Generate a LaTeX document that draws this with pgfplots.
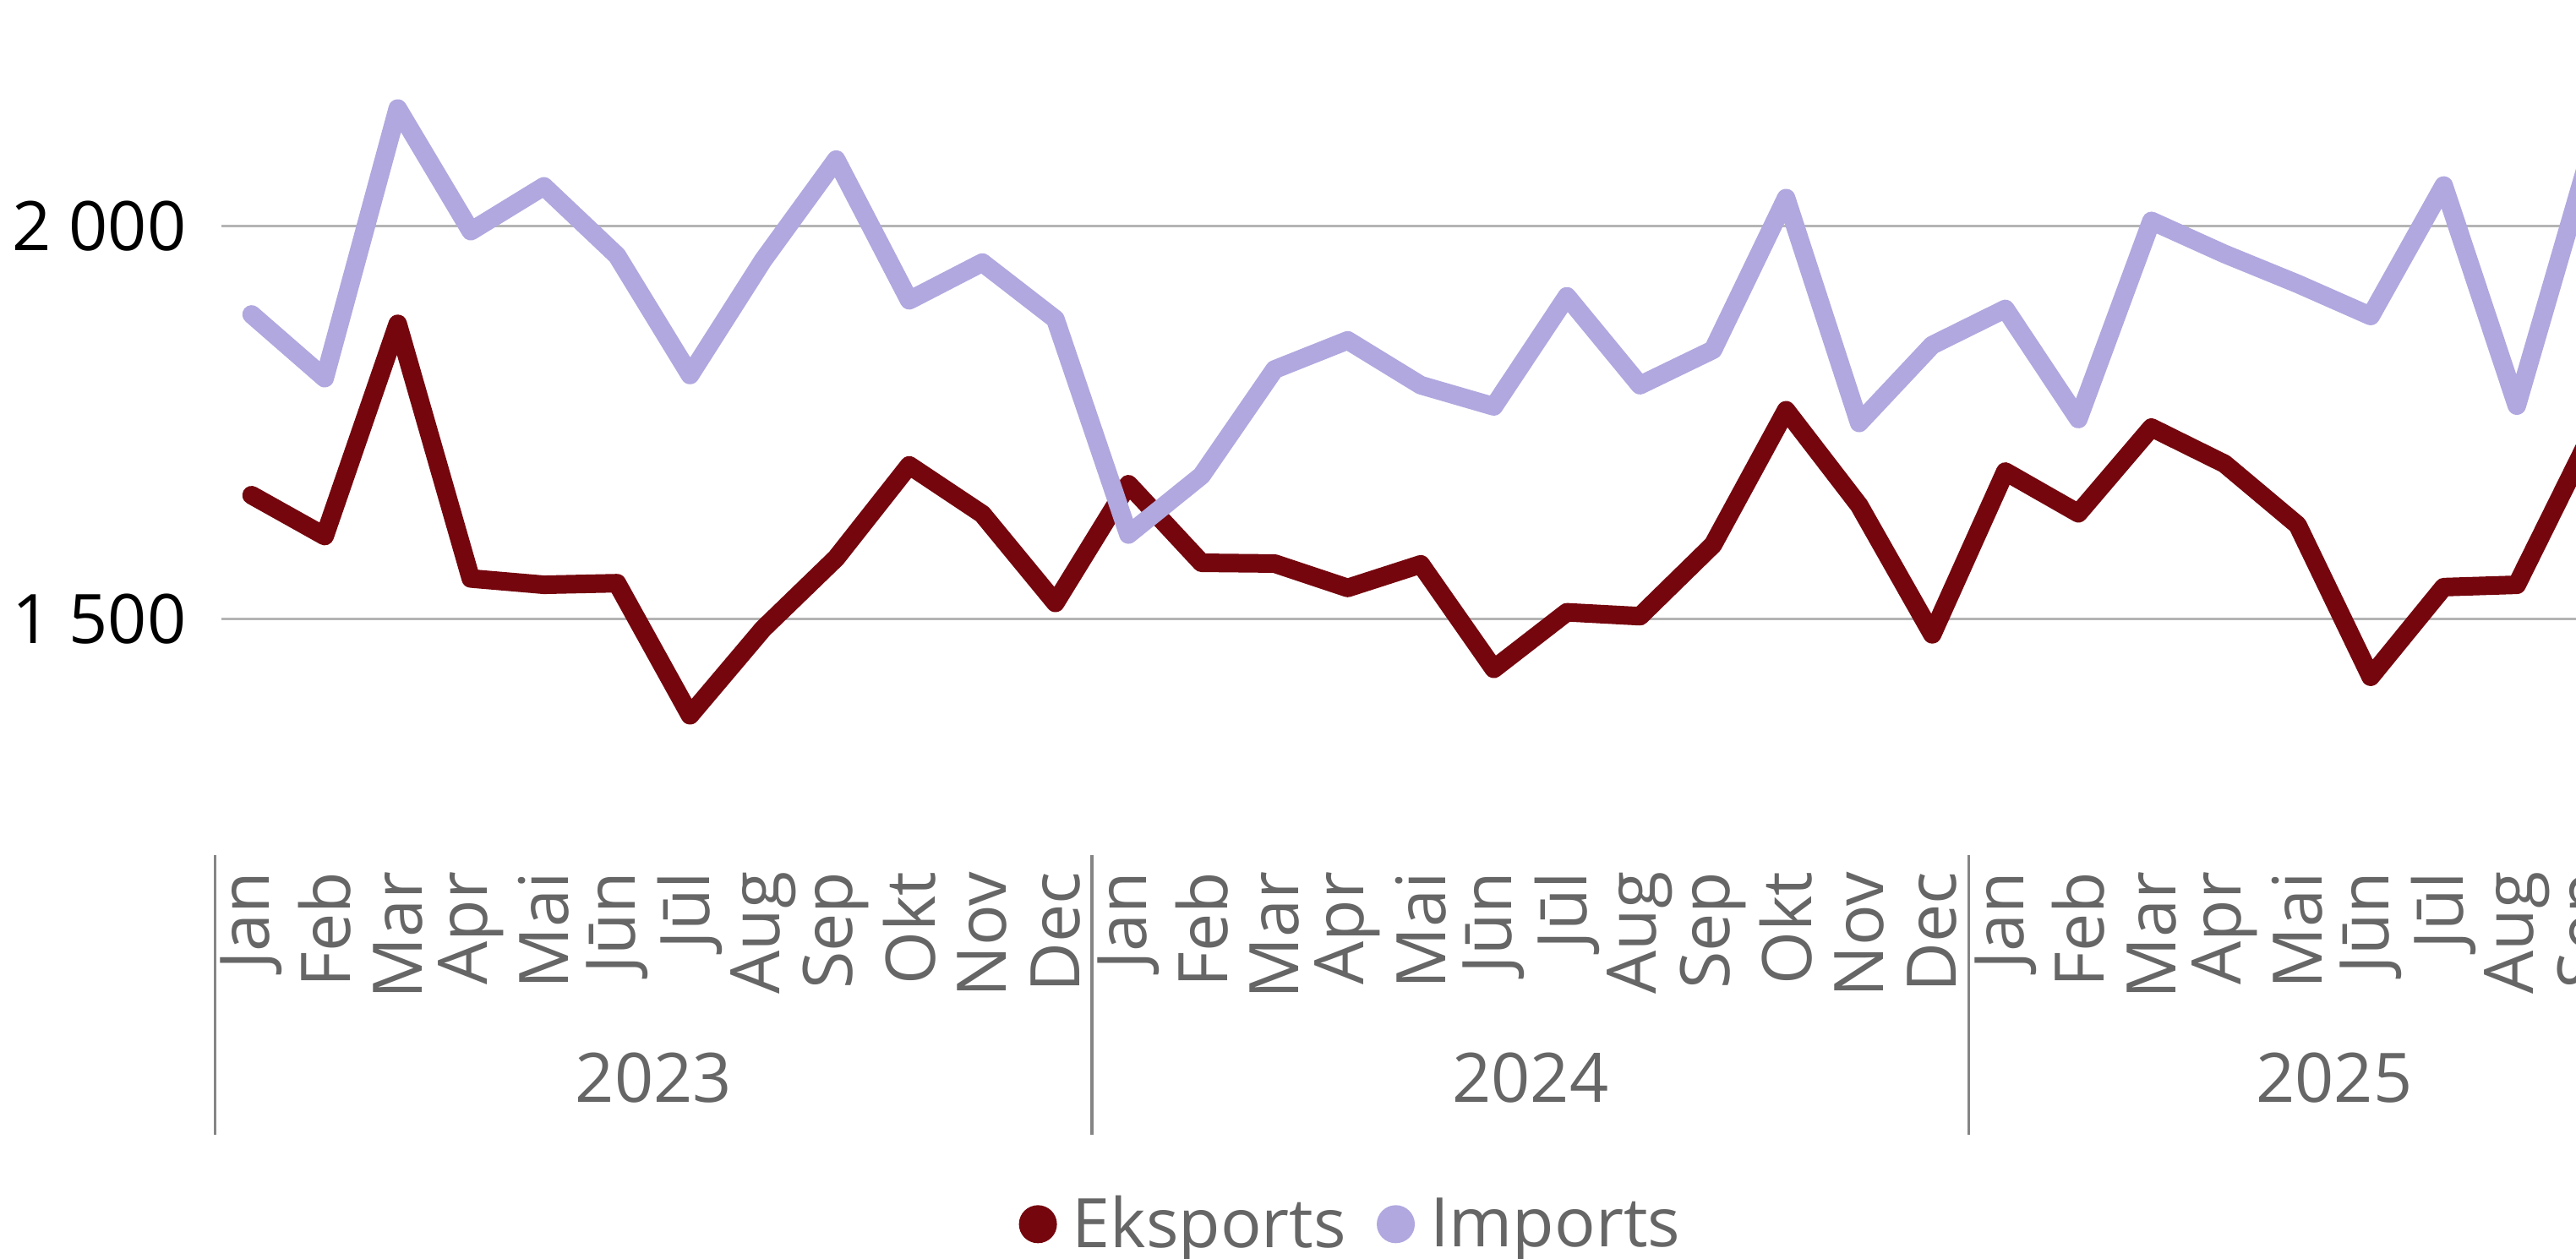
\documentclass[border=0pt]{standalone}
\usepackage{pgfplots}
\pgfplotsset{compat=1.18}
\usepackage{fontspec}
\setmainfont{Open Sans}
\definecolor{expc}{RGB}{117,6,14}
\definecolor{impc}{RGB}{176,168,223}
\definecolor{gridc}{RGB}{180,180,180}
\definecolor{lblc}{RGB}{102,102,102}
\definecolor{sepc}{RGB}{133,133,133}
\newcommand\lblfont{\fontsize{23}{27}\selectfont}
\begin{document}
\begin{tikzpicture}
\path[use as bounding box] (0,0) rectangle (30.48,14.90);
\clip (0,0) rectangle (30.48,14.90);
\begin{axis}[
  at={(2.62cm,4.78cm)}, anchor=south west,
  scale only axis, width=29.321cm, height=10.23cm,
  xmin=-0.413, xmax=33.5, ymin=1200, ymax=2300,
  clip=false,
  axis line style={draw=none},
  major tick length=0pt,
  ytick={1500,2000}, yticklabels={1 500,2 000},
  ymajorgrids, grid style={gridc, line width=0.03cm},
  yticklabel style={font=\lblfont, text=black, anchor=east, inner sep=0pt, xshift=-0.41cm},
  xtick={0,...,33},
  xticklabels={Jan,Feb,Mar,Apr,Mai,Jūn,Jūl,Aug,Sep,Okt,Nov,Dec,Jan,Feb,Mar,Apr,Mai,Jūn,Jūl,Aug,Sep,Okt,Nov,Dec,Jan,Feb,Mar,Apr,Mai,Jūn,Jūl,Aug,Sep,Okt},
  xticklabel style={font=\lblfont, text=lblc, rotate=90, anchor=east, inner sep=0pt},
  xticklabel shift=0.19cm,
  legend image code/.code={\fill[#1, draw=none] (0.225cm,0cm) circle (0.225cm);},
  legend style={at={(0.4563,-0.427)}, anchor=center, draw=none, fill=none,
    legend columns=-1, font=\lblfont, text=lblc,
    nodes={inner sep=0.06cm},
    /tikz/every odd column/.append style={column sep=0.12cm},
    /tikz/every even column/.append style={column sep=0.3cm}},
]
\addplot[expc, line width=0.22cm, line join=round, line cap=round, mark=none] coordinates {
(0,1658) (1,1606) (2,1876) (3,1552) (4,1544) (5,1546) (6,1378) (7,1488) (8,1578) (9,1696) (10,1634) (11,1521)
(12,1672) (13,1572) (14,1571) (15,1540) (16,1570) (17,1437) (18,1509) (19,1504) (20,1595) (21,1766) (22,1645) (23,1481)
(24,1688) (25,1635) (26,1744) (27,1698) (28,1620) (29,1427) (30,1541) (31,1544) (32,1732)
};
\addlegendentry{Eksports}
\addplot[impc, line width=0.22cm, line join=round, line cap=round, mark=none] coordinates {
(0,1888) (1,1807) (2,2150) (3,1994) (4,2051) (5,1963) (6,1811) (7,1957) (8,2085) (9,1906) (10,1954) (11,1882)
(12,1608) (13,1683) (14,1818) (15,1855) (16,1798) (17,1771) (18,1911) (19,1798) (20,1843) (21,2036) (22,1750) (23,1849)
(24,1895) (25,1755) (26,2007) (27,1965) (28,1927) (29,1886) (30,2052) (31,1772) (32,2092)
};
\addlegendentry{Imports}
\foreach \s in {-0.5,11.5,23.5,33.5} {
  \edef\tmp{\noexpand\draw[sepc, line width=0.033cm] (axis cs:\s,1200) -- ([yshift=-3.31cm]axis cs:\s,1200);}
  \tmp
}
\node[font=\lblfont, text=lblc] at ([yshift=-2.64cm]axis cs:5.5,1200) {2023};
\node[font=\lblfont, text=lblc] at ([yshift=-2.64cm]axis cs:17.5,1200) {2024};
\node[font=\lblfont, text=lblc] at ([yshift=-2.64cm]axis cs:28.5,1200) {2025};
\end{axis}
\end{tikzpicture}
\end{document}
